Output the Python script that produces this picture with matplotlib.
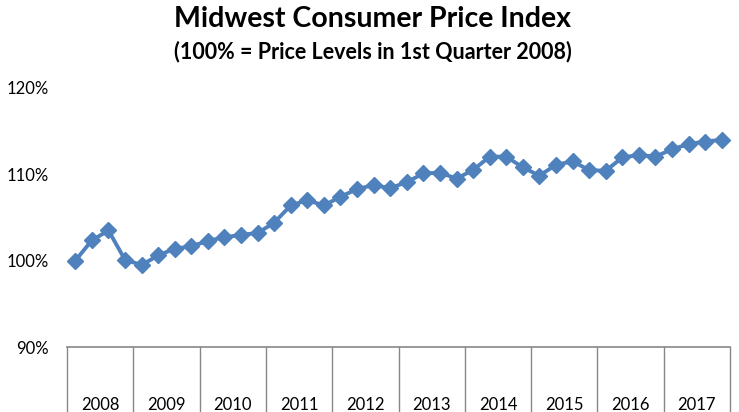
import matplotlib
matplotlib.use("Agg")
import matplotlib.pyplot as plt
from matplotlib.transforms import blended_transform_factory

years = ["2008", "2009", "2010", "2011", "2012", "2013", "2014", "2015", "2016", "2017"]
cpi = [100.0, 102.35, 103.5, 100.1,
       99.5, 100.6, 101.4, 101.65,
       102.3, 102.7, 103.0, 103.2,
       104.4, 106.4, 107.0, 106.4,
       107.4, 108.3, 108.75, 108.4,
       109.1, 110.1, 110.2, 109.5,
       110.5, 112.05, 112.05, 110.8,
       109.85, 111.1, 111.5, 110.5,
       110.4, 111.95, 112.25, 112.05,
       112.9, 113.5, 113.8, 114.0]
yticks = [90, 100, 110, 120]
ytick_labels = ["90%", "100%", "110%", "120%"]

plt.rcParams['font.family'] = ['Lato', 'DejaVu Sans']
fig = plt.figure(figsize=(7.39, 4.12), dpi=100)
ax = fig.add_axes([67/739, 1-347/412, (730-67)/739, (347-88)/412])

x = [i + 0.5 for i in range(len(cpi))]
ax.plot(x, cpi, color="#4F81BD", lw=2.8, marker="D", ms=8.2, mec="#4F81BD", mfc="#4F81BD", clip_on=False)
ax.set_xlim(0, len(cpi))
ax.set_ylim(90, 120)
ax.set_yticks(yticks)
ax.set_yticklabels(ytick_labels, fontsize=12)
ax.tick_params(axis="y", length=0, pad=13)
ax.set_xticks([])
for s in ["top", "right", "left"]:
    ax.spines[s].set_visible(False)
ax.spines["bottom"].set_color("#888888")
ax.spines["bottom"].set_linewidth(1.2)

tr = blended_transform_factory(ax.transData, ax.transAxes)
nyear = len(years)
for k in range(nyear + 1):
    ax.plot([4*k, 4*k], [0, -0.27], transform=tr, color="#888888", lw=1.0, clip_on=False)
for k, yr in enumerate(years):
    ax.text(4*k + 2, -0.225, yr, transform=tr, ha="center", va="center", fontsize=12)

fig.text(373/739, 1-19/412, "Midwest Consumer Price Index", ha="center", va="center",
         fontsize=20.5, fontweight="bold")
fig.text(373/739, 1-52/412, "(100% = Price Levels in 1st Quarter 2008)", ha="center", va="center",
         fontsize=15.5, fontweight="bold")

fig.savefig("out.png", dpi=100)
